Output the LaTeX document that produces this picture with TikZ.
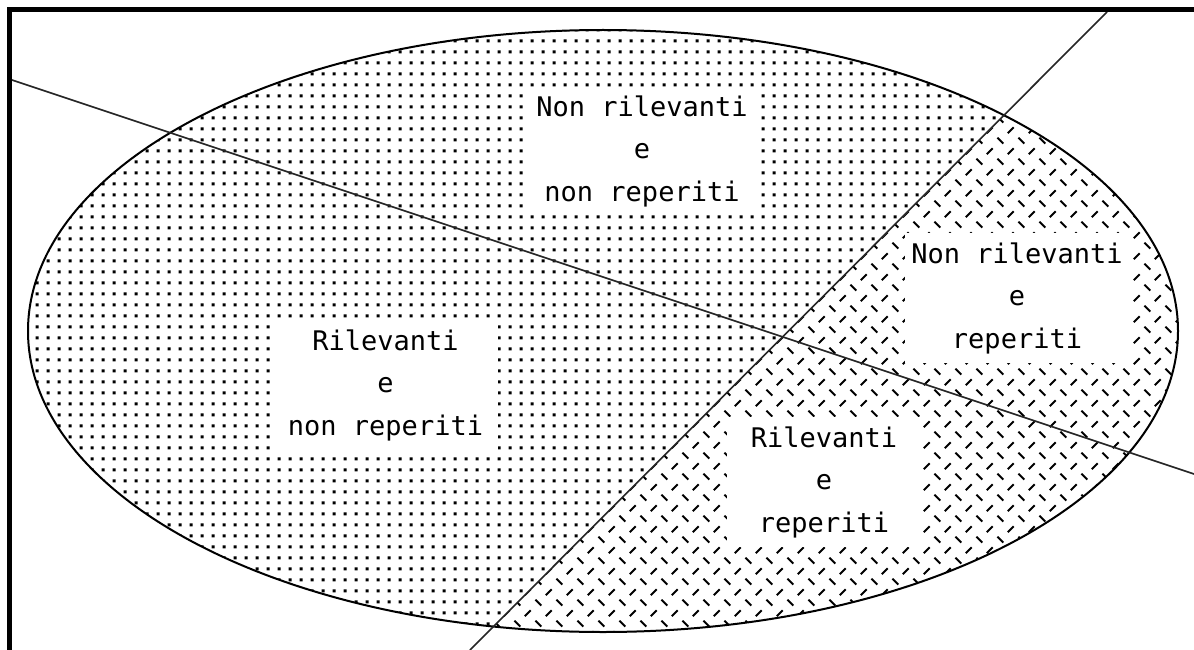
\documentclass[tikz,border=0pt]{standalone}
\usepackage{fontspec}
\newfontfamily\monof{DejaVu Sans Mono}
\usetikzlibrary{patterns,shapes.geometric}
\pgfdeclarepatternformonly{macdots}{\pgfqpoint{0pt}{0pt}}{\pgfqpoint{10.7pt}{10.7pt}}{\pgfqpoint{10.7pt}{10.7pt}}{%
  \pgfpathrectangle{\pgfqpoint{3.8pt}{3.8pt}}{\pgfqpoint{3pt}{3pt}}\pgfusepath{fill}}
\pgfdeclarepatternformonly{machatch}{\pgfqpoint{0pt}{0pt}}{\pgfqpoint{21.4pt}{21.4pt}}{\pgfqpoint{21.4pt}{21.4pt}}{%
  \pgfsetlinewidth{2pt}%
  \pgfpathmoveto{\pgfqpoint{2.5pt}{8.5pt}}\pgfpathlineto{\pgfqpoint{8.5pt}{2.5pt}}%
  \pgfpathmoveto{\pgfqpoint{13.2pt}{13.2pt}}\pgfpathlineto{\pgfqpoint{19.2pt}{19.2pt}}%
  \pgfusepath{stroke}}
\tikzset{
  lbl/.style={fill=white, inner sep=0pt, align=center,
    font=\monof\fontsize{27}{42.5}\selectfont},
  thinline/.style={line width=1.6pt, black!85},
}
\begin{document}
\begin{tikzpicture}[x=1pt,y=-1pt]
\useasboundingbox (0,0) rectangle (1194,650);
\fill[white] (0,0) rectangle (1194,650);
% regions
\begin{scope}
  \clip (603,331) ellipse [x radius=575pt, y radius=301pt];
  \fill[pattern=macdots] (0,0) -- (1120,0) -- (470,650) -- (0,650) -- cycle;
  \fill[pattern=machatch] (1120,0) -- (1194,0) -- (1194,650) -- (470,650) -- cycle;
\end{scope}
\node[draw=black, line width=2pt, ellipse, minimum width=1150pt, minimum height=602pt, inner sep=0pt] (ell) at (603,331) {};
% lines
\coordinate (l1a) at (12,80);
\coordinate (l1b) at (1194,474);
\coordinate (l2a) at (1107,12);
\coordinate (l2b) at (470,650);
\draw[thinline] (l1a) -- (l1b);
\draw[thinline] (l2a) -- (l2b);
% labels
\node[lbl, minimum width=229pt, minimum height=125pt] (nrnr) at (642,151) {Non rilevanti\\e\\non reperiti};
\node[lbl, minimum width=225pt, minimum height=130pt] (rnr) at (385.5,385) {Rilevanti\\e\\non reperiti};
\node[lbl, minimum width=194pt, minimum height=130pt] (rr) at (824,482) {Rilevanti\\e\\reperiti};
\node[lbl, minimum width=225pt, minimum height=130pt] (nrr) at (1017,298) {Non rilevanti\\e\\reperiti};
% frame
\coordinate (fa) at (9.5,650);
\coordinate (fb) at (9.5,9.5);
\coordinate (fc) at (1194,9.5);
\draw[line width=5pt, black] (fa) -- (fb) -- (fc);
\end{tikzpicture}
\end{document}
